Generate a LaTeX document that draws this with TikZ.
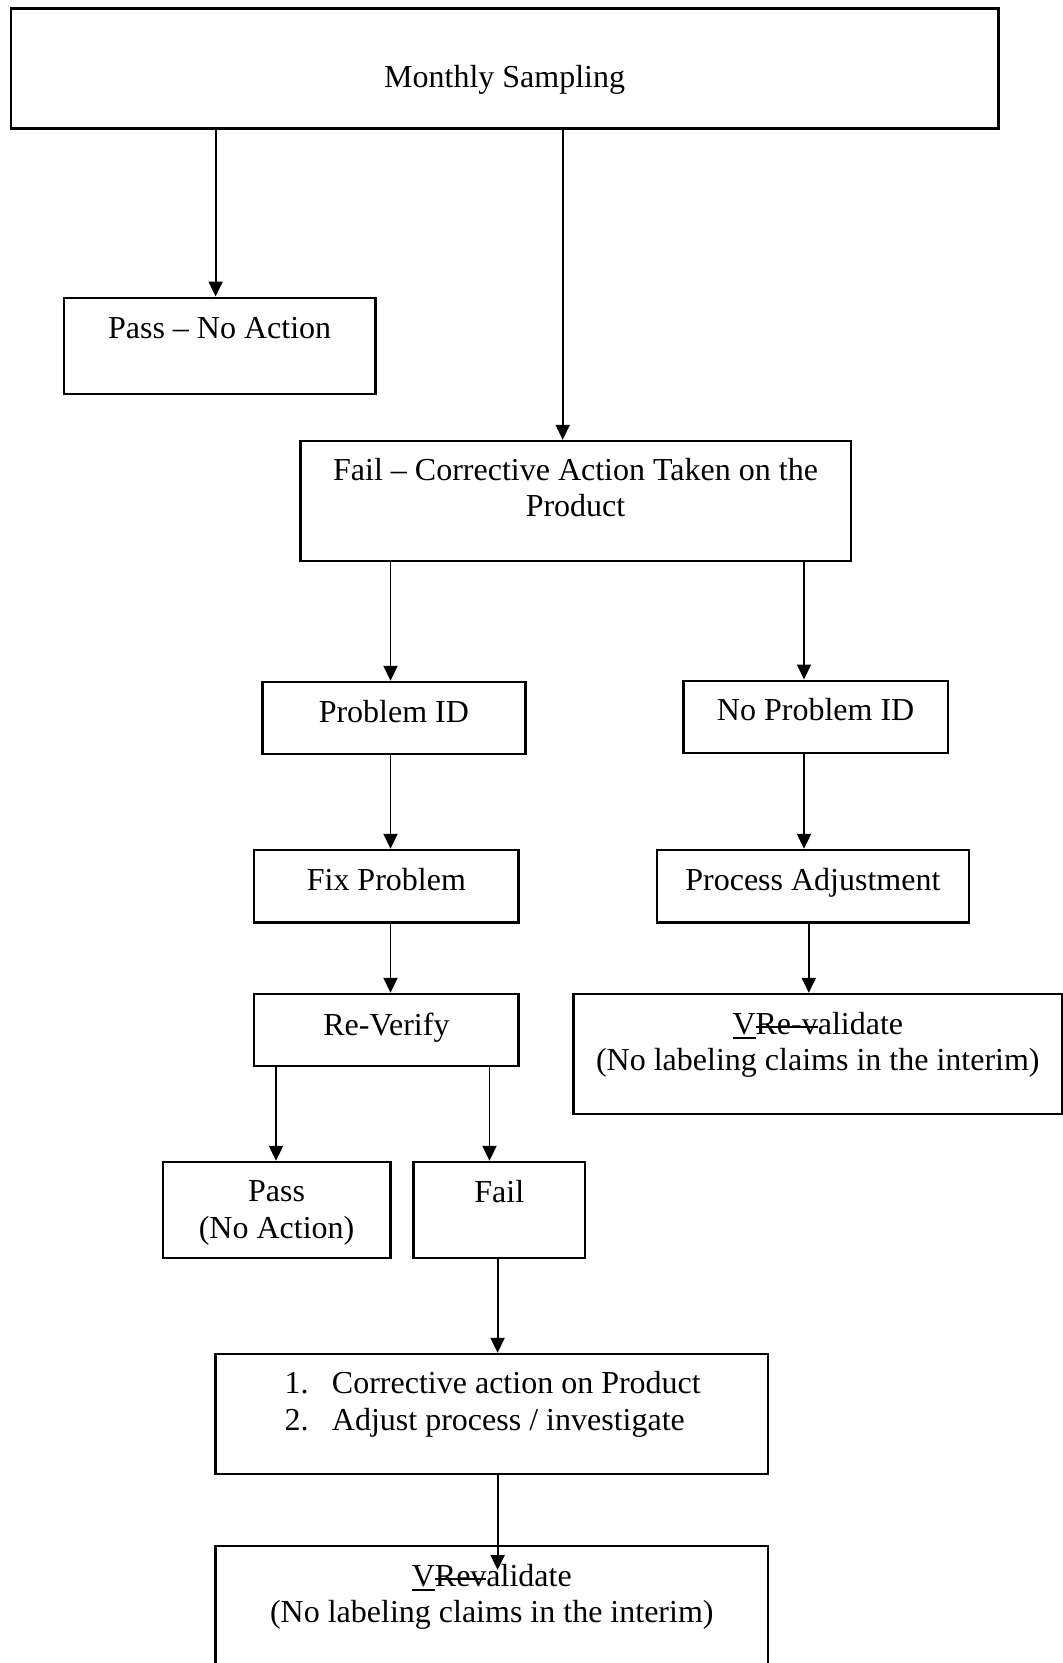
\documentclass[tikz,border=0pt]{standalone}
\usepackage{fontspec}
\setmainfont{Liberation Serif}
\usetikzlibrary{arrows.meta}
\newcommand\boxfont{\fontsize{32}{36.8}\selectfont}
\newcommand\undl[1]{\leavevmode\setbox0\hbox{#1}\rlap{\rule[-5pt]{\wd0}{2pt}}\box0}
\newcommand\strk[1]{\leavevmode\setbox0\hbox{#1}\rlap{\rule[6.5pt]{\wd0}{2pt}}\box0}
\tikzset{
  box/.style={draw, line width=2.4pt, inner sep=0pt, align=flush center, font=\boxfont},
  dims/.style n args={3}{minimum width=#1pt, text width=#1pt, text height=#2pt, text depth=#3pt},
  arr/.style={-{Triangle[length=15pt,width=14pt]}, line width=1.9pt}
}
\begin{document}
\begin{tikzpicture}[x=1pt,y=-1pt]
  \useasboundingbox (0,0) rectangle (1063,1663);
  % boxes, top to bottom
  \node[box, dims={987.8}{79}{41.2}] (month) at (504.7,68.4) {Monthly Sampling};
  \node[box, dims={311.9}{40.3}{56}] (pass1) at (219.65,345.85) {Pass -- No Action};
  \node[box, dims={550.5}{39}{80.7}] (failca) at (575.55,500.85)
    {Fail -- Corrective Action Taken on the\\ Product};
  \node[box, dims={263}{40.3}{31.4}] (probid) at (393.9,717.85) {Problem ID};
  \node[box, dims={264.4}{40}{32}] (noprob) at (815.6,716.7) {No Problem ID};
  \node[box, dims={264.4}{40.7}{31.6}] (fix) at (386.4,886.15) {Fix Problem};
  \node[box, dims={311.8}{40.7}{31.6}] (procadj) at (812.9,886.15) {Process Adjustment};
  \node[box, dims={264.4}{41}{31}] (reverify) at (386.4,1030) {Re-Verify};
  \node[box, dims={488.4}{40}{80}] (reval1) at (817.8,1054)
    {\undl{V}\strk{Re-v}alidate\\ (No labeling claims in the interim)};
  \node[box, dims={227.8}{39.7}{56.3}] (pass2) at (276.6,1210) {Pass\\ (No Action)};
  \node[box, dims={171.4}{40}{56}] (fail2) at (499.3,1210) {Fail};
  \node[box, dims={552.4}{39.3}{80.4}, align=flush left] (numbered) at (491.8,1413.85)
    {\hspace*{69.1pt}\makebox[47.3pt][l]{1.}Corrective action on Product\\
     \hspace*{69.1pt}\makebox[47.3pt][l]{2.}Adjust process / investigate};
  \node[box, dims={552.4}{40}{80}] (reval2) at (491.8,1606)
    {\undl{V}\strk{Rev}alidate\\ (No labeling claims in the interim)};
  % arrow columns
  \coordinate (colA) at (215.6,0);
  \coordinate (colB) at (562.7,0);
  \coordinate (colC) at (390.5,0);
  \coordinate (colD) at (804,0);
  \coordinate (colE) at (808.8,0);
  \coordinate (colF) at (276,0);
  \coordinate (colG) at (489.5,0);
  \coordinate (colH) at (497.6,0);
  \coordinate (revtip) at (497.6,1570);
  % arrows
  \draw[arr] (month.south -| colA) -- (pass1.north -| colA);
  \draw[arr] (month.south -| colB) -- (failca.north -| colB);
  \draw[arr] (failca.south -| colC) -- (probid.north -| colC);
  \draw[arr] (failca.south -| colD) -- (noprob.north -| colD);
  \draw[arr] (probid.south -| colC) -- (fix.north -| colC);
  \draw[arr] (noprob.south -| colD) -- (procadj.north -| colD);
  \draw[arr] (fix.south -| colC) -- (reverify.north -| colC);
  \draw[arr] (procadj.south -| colE) -- (reval1.north -| colE);
  \draw[arr] (reverify.south -| colF) -- (pass2.north -| colF);
  \draw[arr] (reverify.south -| colG) -- (fail2.north -| colG);
  \draw[arr] (fail2.south -| colH) -- (numbered.north -| colH);
  \draw[arr] (numbered.south -| colH) -- (revtip);
\end{tikzpicture}
\end{document}
